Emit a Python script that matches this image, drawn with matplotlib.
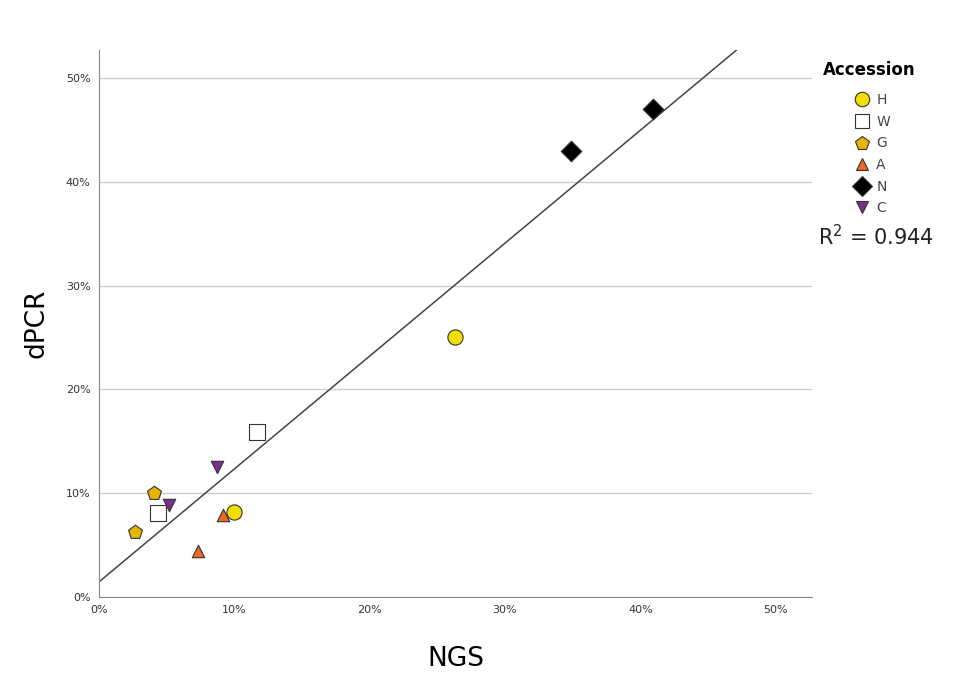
import numpy as np
import matplotlib.pyplot as plt
from matplotlib.ticker import PercentFormatter
from matplotlib.lines import Line2D

# accession groups, NGS vs dPCR (%)
groups = ['H', 'W', 'G', 'A', 'N', 'C']
ngs = {
    'H': [10.0, 26.3],
    'W': [4.4, 11.7],
    'G': [4.1, 2.7],
    'A': [9.2, 7.3],
    'N': [34.9, 40.9],
    'C': [8.7, 5.2],
}
dpcr = {
    'H': [8.2, 25.1],
    'W': [8.1, 15.9],
    'G': [10.0, 6.3],
    'A': [7.9, 4.4],
    'N': [43.0, 47.0],
    'C': [12.5, 8.9],
}
r2_text = 'R$^2$ = 0.944'

styles = {
    'H': dict(marker='o', color='#f2de00', s=120),
    'W': dict(marker='s', color='white', s=120),
    'G': dict(marker='p', color='#e8b400', s=110),
    'A': dict(marker='^', color='#f26522', s=80),
    'N': dict(marker='D', color='black', s=110),
    'C': dict(marker='v', color='#7b2d8e', s=80),
}

fig = plt.figure(figsize=(9.59, 6.87), dpi=100)
ax = fig.add_axes([0.103, 0.131, 0.744, 0.796])

for g in groups:
    st = styles[g]
    ax.scatter(ngs[g], dpcr[g], marker=st['marker'], c=st['color'], s=st['s'],
               edgecolors='#333333', linewidths=0.8, zorder=3)

# fit line
allx = np.concatenate([ngs[g] for g in groups])
ally = np.concatenate([dpcr[g] for g in groups])
slope, icpt = np.polyfit(allx, ally, 1)
xx = np.array([0, 52.7])
ax.plot(xx, icpt + slope * xx, color='#444444', lw=1.1, zorder=2)

ax.set_xlim(0, 52.7)
ax.set_ylim(0, 52.7)
ax.set_xticks(range(0, 51, 10))
ax.set_yticks(range(0, 51, 10))
ax.xaxis.set_major_formatter(PercentFormatter(decimals=0))
ax.yaxis.set_major_formatter(PercentFormatter(decimals=0))
ax.tick_params(length=0, labelsize=8, colors='#333333', pad=6)
ax.yaxis.grid(True, color='#cccccc', lw=1)
ax.set_axisbelow(True)
for s in ['top', 'right']:
    ax.spines[s].set_visible(False)
for s in ['left', 'bottom']:
    ax.spines[s].set_color('#888888')

ax.set_xlabel('NGS', fontsize=19, labelpad=22)
ax.set_ylabel('dPCR', fontsize=19, labelpad=12)

handles = []
for g in groups:
    st = styles[g]
    handles.append(Line2D([], [], ls='', marker=st['marker'], markerfacecolor=st['color'],
                          markeredgecolor='#333333', markeredgewidth=0.8,
                          markersize=np.sqrt(st['s']) * 0.95, label=g))
leg = fig.legend(handles=handles, title='Accession', loc='upper left',
                 bbox_to_anchor=(0.848, 0.925), frameon=False, fontsize=10,
                 handletextpad=0.0, labelspacing=0.55, borderpad=0.2)
leg.get_title().set_fontweight('bold')
leg.get_title().set_fontsize(12)
leg._legend_box.sep = 10
for t in leg.get_texts():
    t.set_color('#444444')

fig.text(0.853, 0.655, r2_text, fontsize=15, color='#222222', va='center')

fig.savefig('out.png', dpi=100)
